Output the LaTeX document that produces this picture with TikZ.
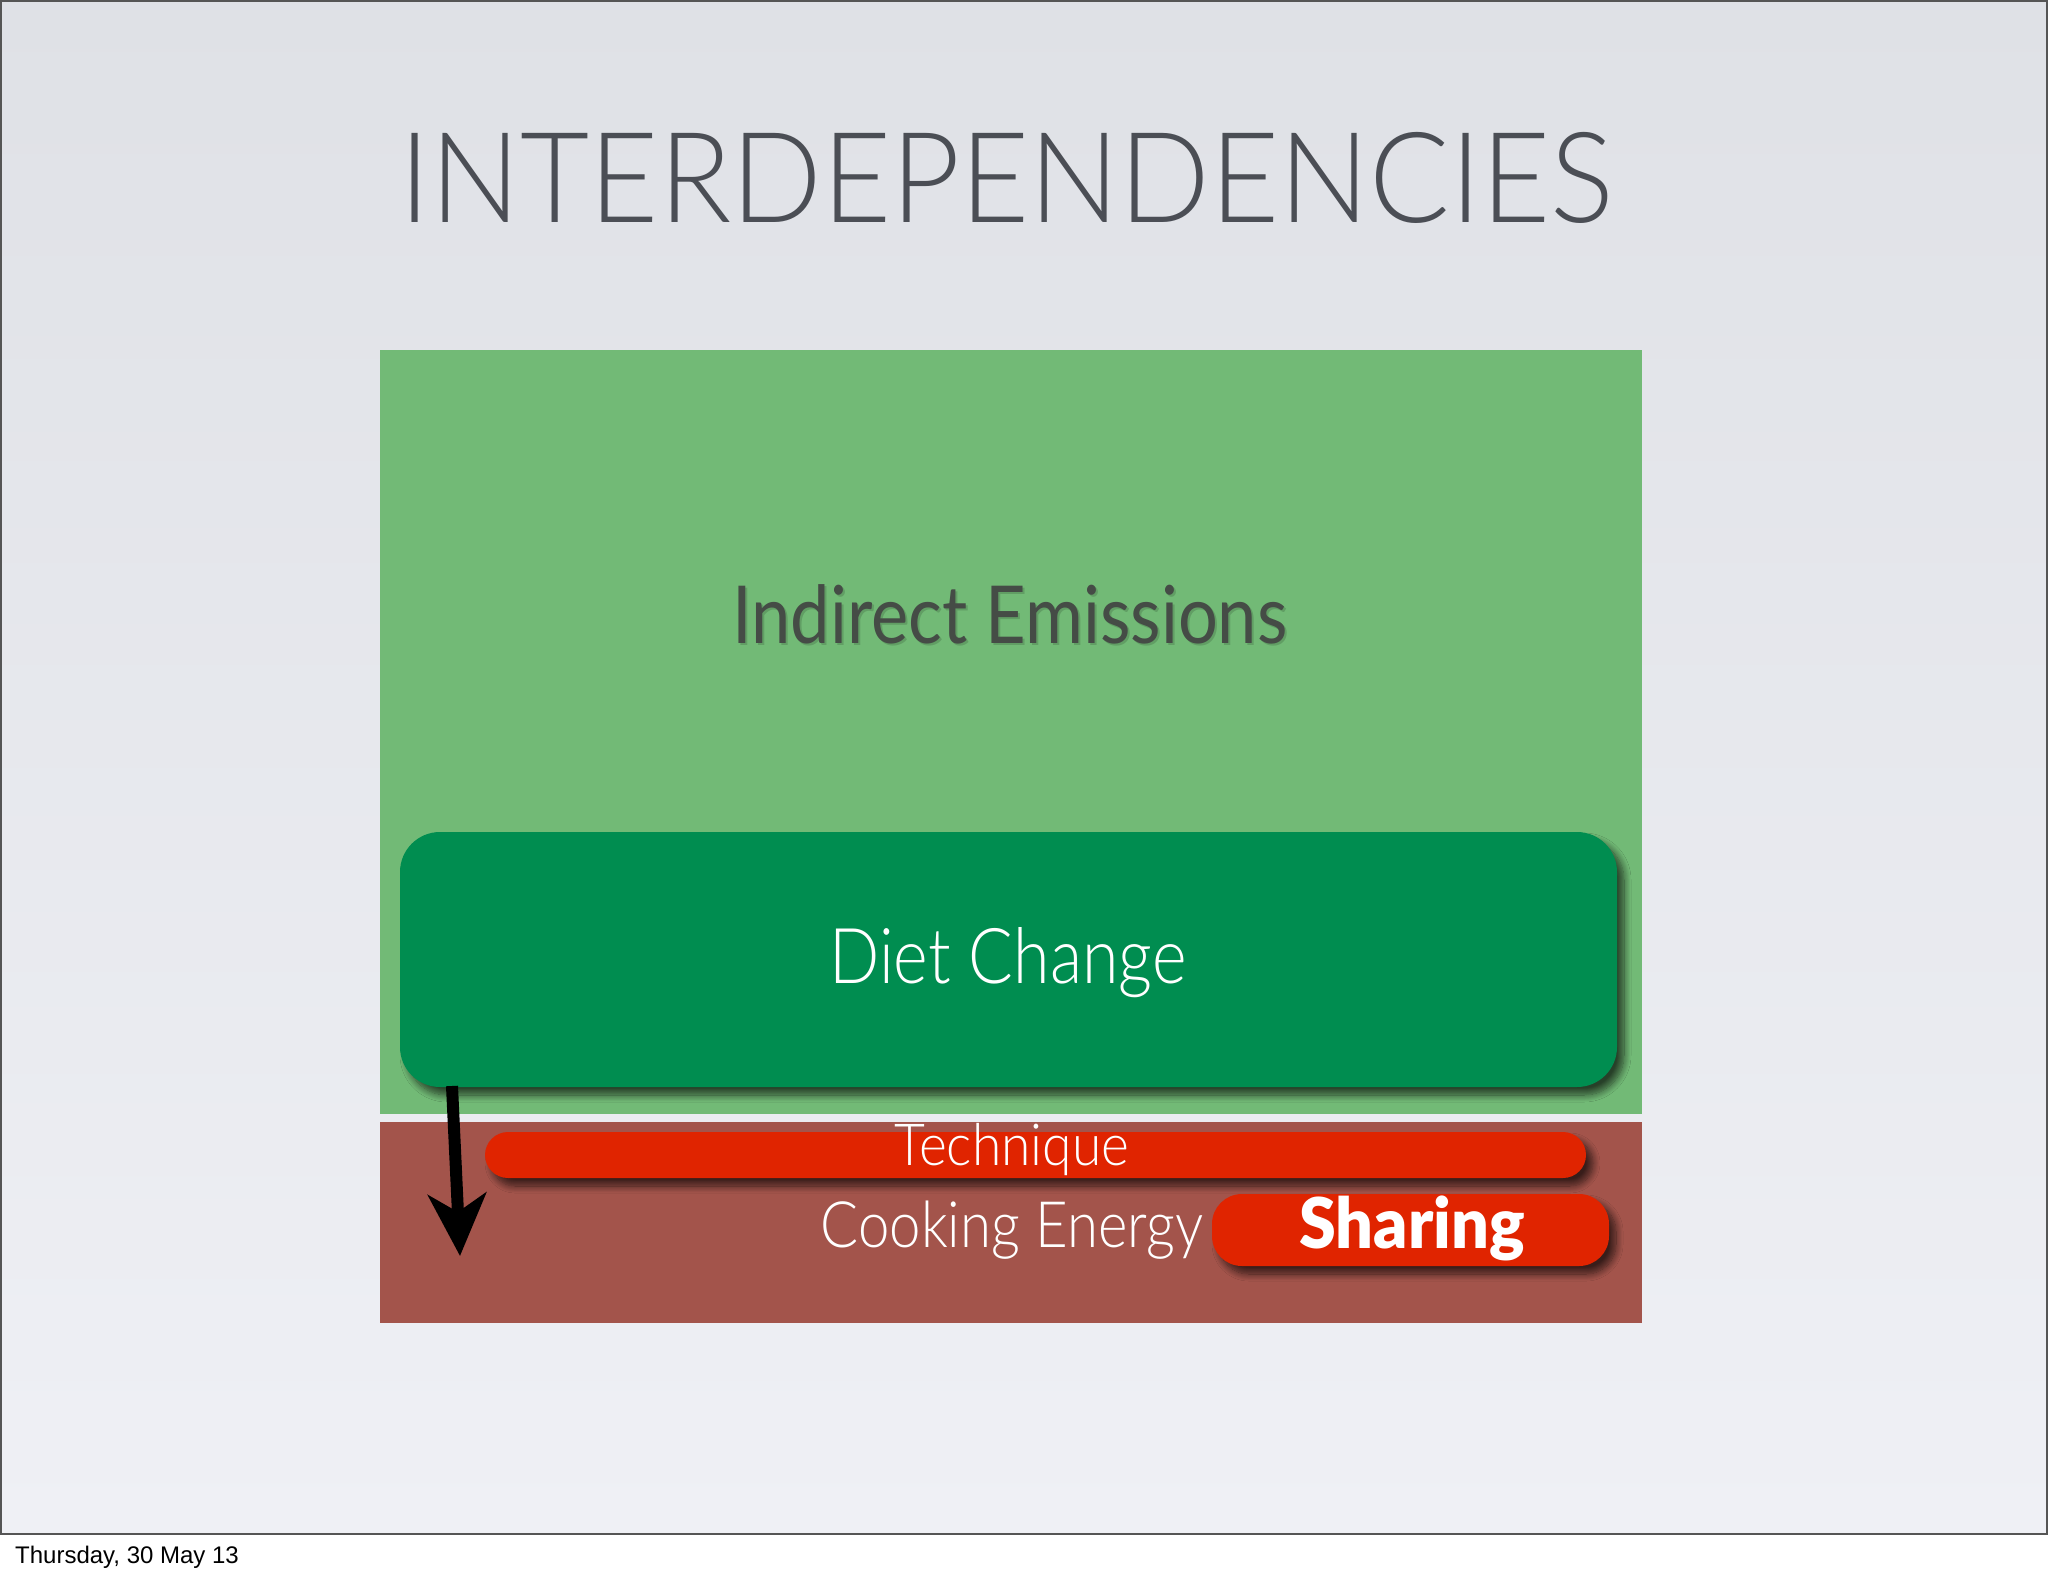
\documentclass[tikz,border=0pt]{standalone}
\usepackage{fontspec}
\setmainfont{Lato}
\newfontfamily\gillight{Lato}[UprightFont={* Light}]
\newfontfamily\gillbold{Lato}[UprightFont={* Black}]
\newfontfamily\arialf{Liberation Sans}
\usetikzlibrary{arrows.meta,shadows.blur}
\definecolor{bgtop}{HTML}{DFE1E6}
\definecolor{bgbot}{HTML}{EFF0F5}
\definecolor{titlec}{HTML}{4B4E55}
\definecolor{lightgreen}{HTML}{72BA76}
\definecolor{dietgreen}{HTML}{008D50}
\definecolor{brownc}{HTML}{A3544B}
\definecolor{redc}{HTML}{E02400}
\definecolor{indc}{HTML}{454C46}
\definecolor{framec}{HTML}{555555}
\tikzset{
  panel/.style={rectangle, inner sep=0pt, draw=none},
  shad/.style={blur shadow={shadow xshift=7pt, shadow yshift=-8pt, shadow blur radius=7pt, shadow blur steps=10, shadow opacity=65}},
  lbl/.style={inner sep=0pt, anchor=base},
}
\begin{document}
\begin{tikzpicture}[x=1pt,y=-1pt]
\useasboundingbox (0,0) rectangle (2048,1576);
\fill[white] (0,0) rectangle (2048,1576);
\shade[top color=bgtop, bottom color=bgbot] (0,0) rectangle (2048,1534);
\draw[framec, line width=2pt] (1,1) rectangle (2047,1534);

\node[lbl, text=titlec, font=\gillight\fontsize{126}{130}\selectfont] (title) at (1007,222) {\scalebox{0.947}[1]{INTERDEPENDENCIES}};

\node[panel, fill=lightgreen, minimum width=1262pt, minimum height=764pt] (indirect) at (1011,732) {};
\node[panel, fill=brownc, minimum width=1262pt, minimum height=201pt] (cooking) at (1011,1222.5) {};

\node[lbl, text=black, opacity=0.15, font=\fontsize{80}{84}\selectfont] (indsh) at (1012,645) {\scalebox{0.88}[1]{Indirect Emissions}};
\node[lbl, text=indc, font=\fontsize{80}{84}\selectfont] (indlbl) at (1010,643) {\scalebox{0.88}[1]{Indirect Emissions}};

\node[panel, fill=dietgreen, minimum width=1217pt, minimum height=255pt, rounded corners=40pt, shad] (diet) at (1008.5,959.5) {};
\node[lbl, text=white, font=\gillight\fontsize{77}{80}\selectfont] (dietlbl) at (1008,983) {\scalebox{0.86}[1]{Diet Change}};

\node[panel, fill=redc, minimum width=1101pt, minimum height=46pt, rounded corners=23pt, shad] (tech) at (1035.5,1155) {};
\node[lbl, text=white, font=\gillight\fontsize{58}{60}\selectfont] (techlbl) at (1012,1165) {\scalebox{0.92}[1]{Technique}};

\node[lbl, text=white, font=\gillight\fontsize{64}{66}\selectfont] (cooklbl) at (1012,1247) {\scalebox{0.88}[1]{Cooking Energy}};

\node[panel, fill=redc, minimum width=397pt, minimum height=72pt, rounded corners=30pt, shad] (share) at (1410.5,1230) {};
\node[lbl, text=white, font=\gillbold\fontsize{70}{72}\selectfont] (sharelbl) at (1412,1248) {\scalebox{0.95}[1]{Sharing}};

\coordinate (arrS) at (452,1086);
\coordinate (arrE) at (460,1256);
\draw[line width=12pt, -{Stealth[length=62pt,width=58pt,inset=18pt]}] (arrS) -- (arrE);

\node[lbl, anchor=base west, text=black, font=\arialf\fontsize{24}{26}\selectfont] (date) at (15,1563) {Thursday, 30 May 13};
\end{tikzpicture}
\end{document}
